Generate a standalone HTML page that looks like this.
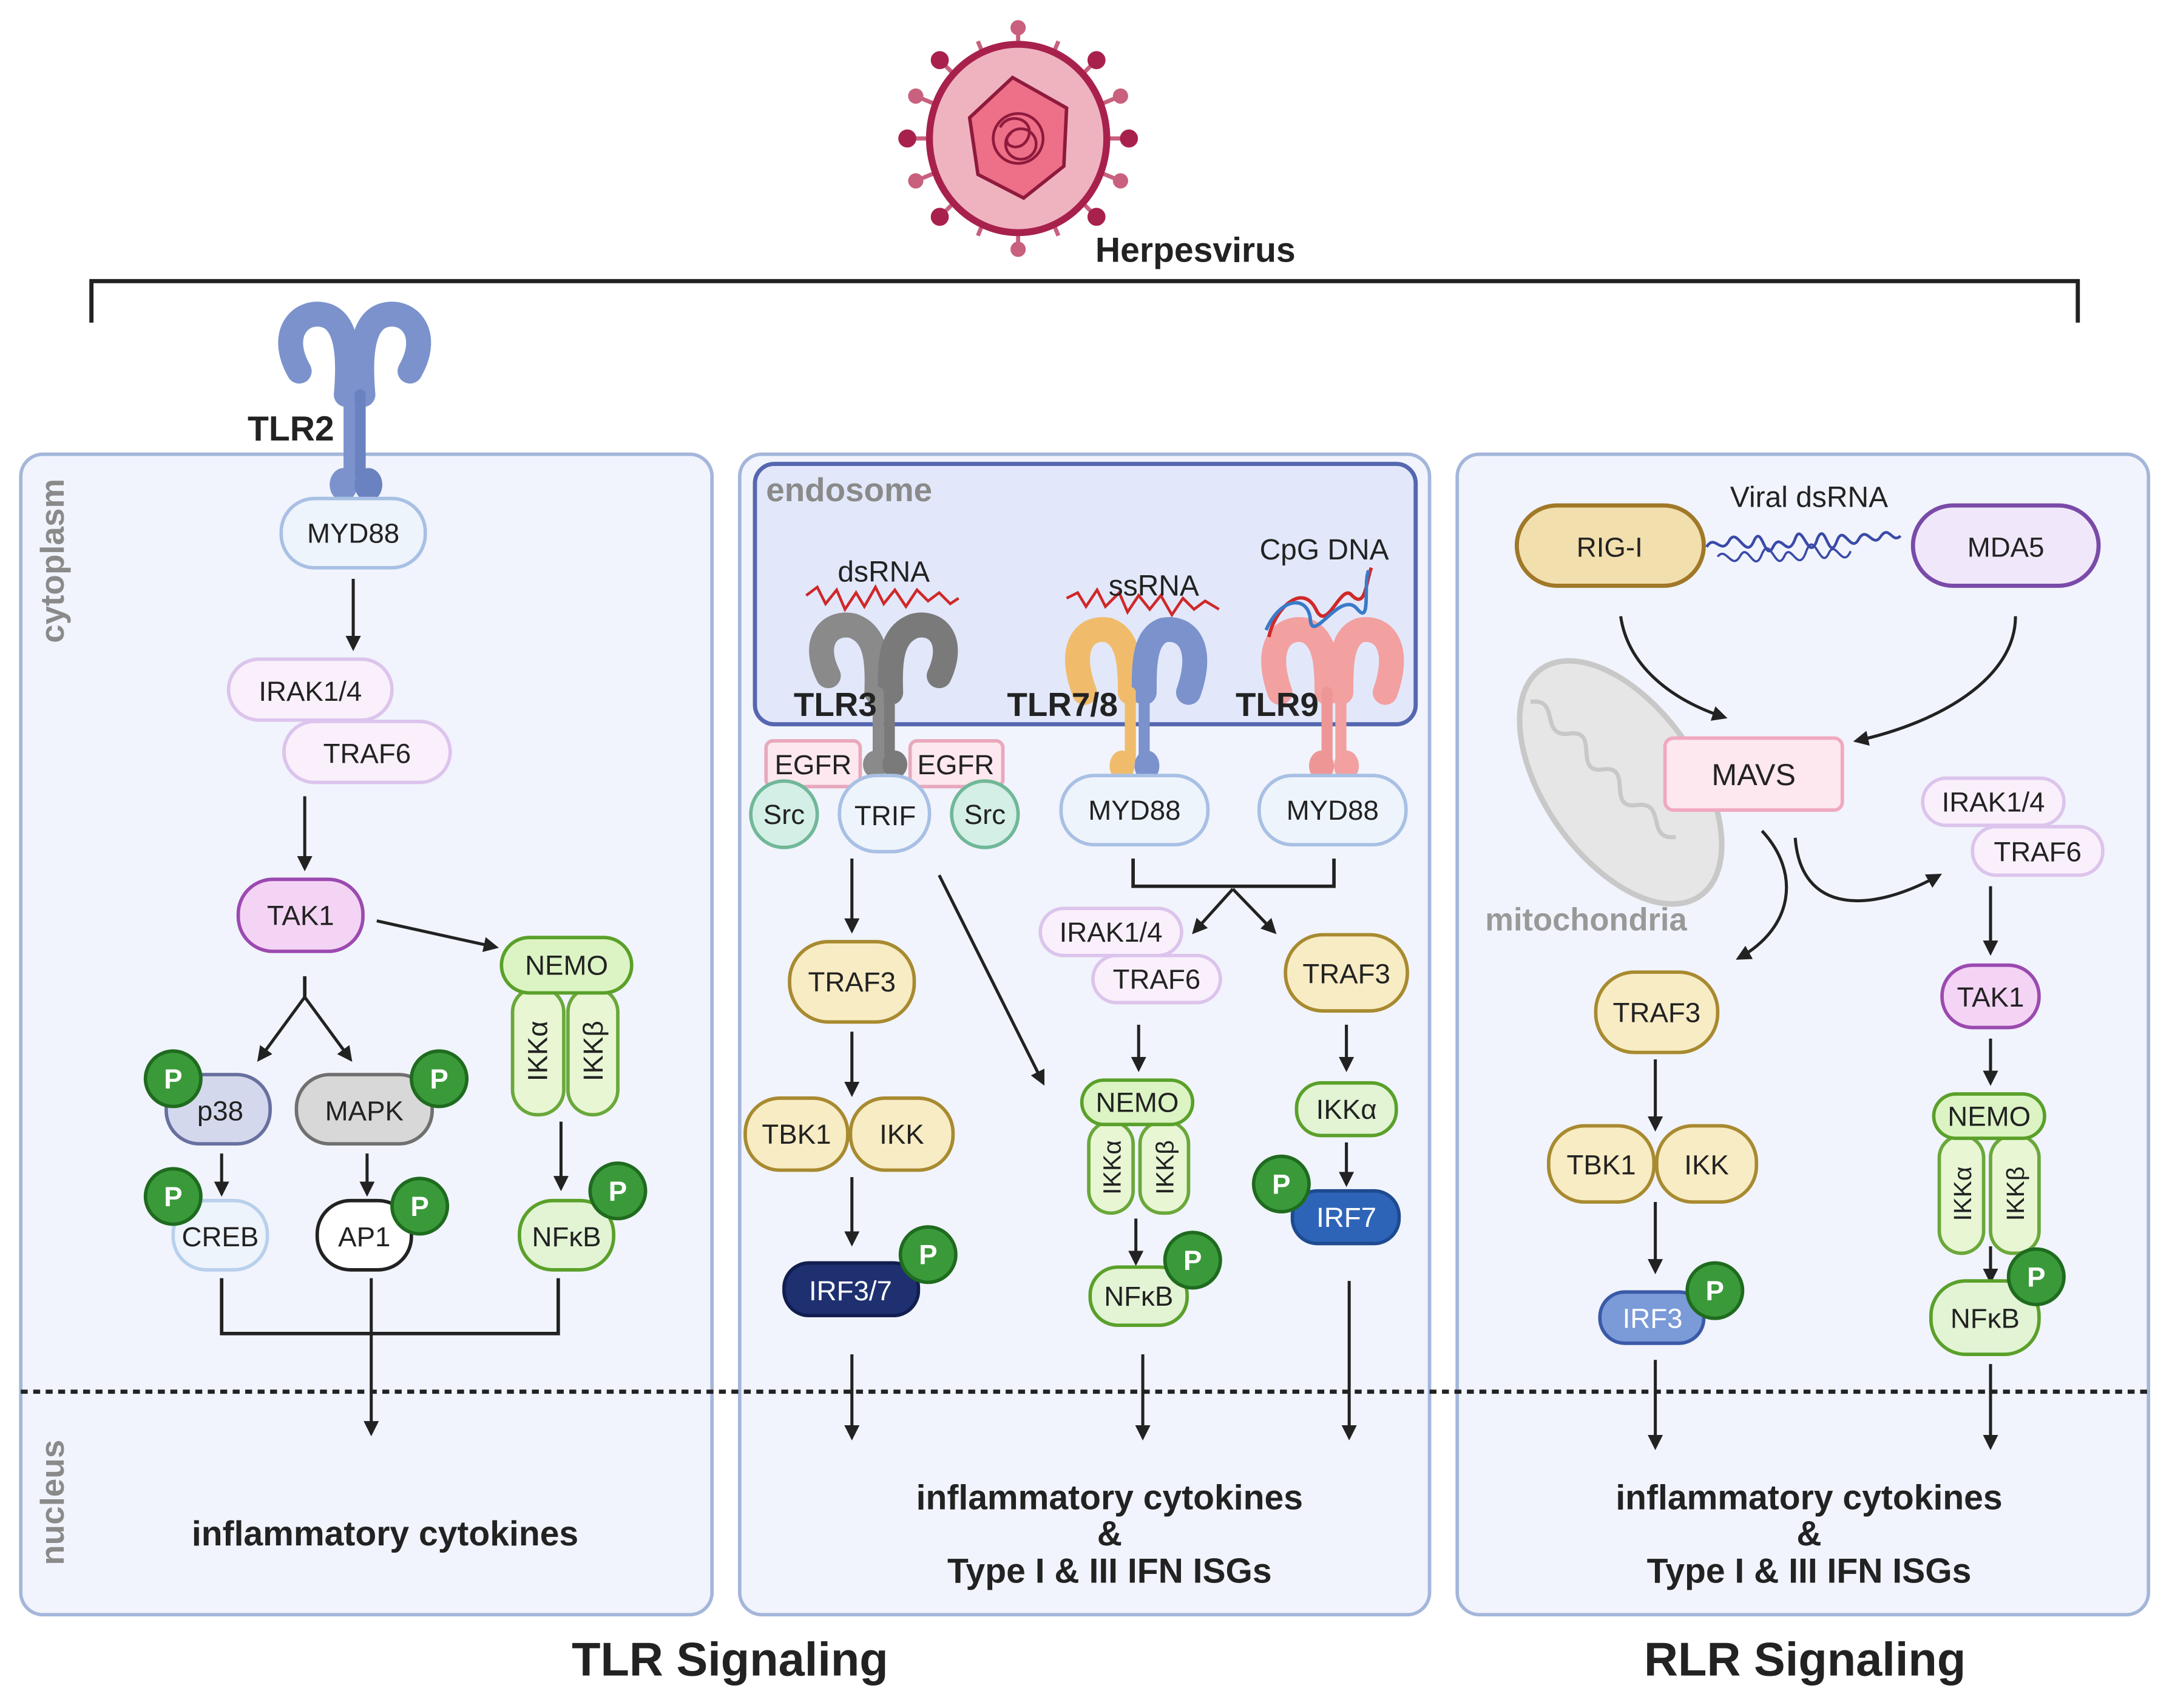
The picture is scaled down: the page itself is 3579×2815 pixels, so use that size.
<!DOCTYPE html>
<html><head><meta charset="utf-8"><style>
html,body{margin:0;padding:0;background:#fff;}
svg{display:block;}
text{font-family:"Liberation Sans","DejaVu Sans",sans-serif;}
</style></head><body>
<svg width="3579" height="2815" viewBox="0 0 1568 1233.4" preserveAspectRatio="none" xmlns="http://www.w3.org/2000/svg">
<defs>
<marker id="a" viewBox="0 0 10 10" refX="8" refY="5" markerWidth="5" markerHeight="5" orient="auto"><path d="M0,0 L10,5 L0,10 z" fill="#222"/></marker>
</defs>
<rect width="1568" height="1234" fill="#fff"/>

<!-- virus -->
<g>
 <g stroke="#c8607e" stroke-width="3">
  <g transform="rotate(0 735 100)"><line x1="735" y1="35" x2="735" y2="22"/><circle cx="735" cy="20" r="4" fill="#c8607e"/></g>
  <g transform="rotate(22.5 735 100)"><line x1="735" y1="35" x2="735" y2="24"/></g>
  <g transform="rotate(45 735 100)"><line x1="735" y1="35" x2="735" y2="22"/><circle cx="735" cy="20" r="5" fill="#a8214c" stroke="#a8214c"/></g>
  <g transform="rotate(67.5 735 100)"><line x1="735" y1="35" x2="735" y2="22"/><circle cx="735" cy="20" r="4" fill="#c8607e"/></g>
  <g transform="rotate(90 735 100)"><line x1="735" y1="35" x2="735" y2="22"/><circle cx="735" cy="20" r="5" fill="#a8214c" stroke="#a8214c"/></g>
  <g transform="rotate(112.5 735 100)"><line x1="735" y1="35" x2="735" y2="22"/><circle cx="735" cy="20" r="4" fill="#c8607e"/></g>
  <g transform="rotate(135 735 100)"><line x1="735" y1="35" x2="735" y2="22"/><circle cx="735" cy="20" r="5" fill="#a8214c" stroke="#a8214c"/></g>
  <g transform="rotate(157.5 735 100)"><line x1="735" y1="35" x2="735" y2="24"/></g>
  <g transform="rotate(180 735 100)"><line x1="735" y1="35" x2="735" y2="22"/><circle cx="735" cy="20" r="4" fill="#c8607e"/></g>
  <g transform="rotate(202.5 735 100)"><line x1="735" y1="35" x2="735" y2="24"/></g>
  <g transform="rotate(225 735 100)"><line x1="735" y1="35" x2="735" y2="22"/><circle cx="735" cy="20" r="5" fill="#a8214c" stroke="#a8214c"/></g>
  <g transform="rotate(247.5 735 100)"><line x1="735" y1="35" x2="735" y2="22"/><circle cx="735" cy="20" r="4" fill="#c8607e"/></g>
  <g transform="rotate(270 735 100)"><line x1="735" y1="35" x2="735" y2="22"/><circle cx="735" cy="20" r="5" fill="#a8214c" stroke="#a8214c"/></g>
  <g transform="rotate(292.5 735 100)"><line x1="735" y1="35" x2="735" y2="22"/><circle cx="735" cy="20" r="4" fill="#c8607e"/></g>
  <g transform="rotate(315 735 100)"><line x1="735" y1="35" x2="735" y2="22"/><circle cx="735" cy="20" r="5" fill="#a8214c" stroke="#a8214c"/></g>
  <g transform="rotate(337.5 735 100)"><line x1="735" y1="35" x2="735" y2="24"/></g>
 </g>
 <ellipse cx="735" cy="100" rx="64" ry="68" fill="#efb3c0" stroke="#a8214c" stroke-width="5"/>
 <polygon points="731,56 770,78 768,120 739,143 706,126 700,85" fill="#ee6f88" stroke="#8e1a3c" stroke-width="2.5"/>
 <circle cx="735" cy="100" r="18" fill="none" stroke="#8e1a3c" stroke-width="2"/>
 <circle cx="737" cy="104" r="11" fill="none" stroke="#8e1a3c" stroke-width="2"/>
 <path d="M722,92 C728,80 748,86 742,100 C736,112 720,104 730,96" fill="none" stroke="#8e1a3c" stroke-width="2"/>
</g>
<text x="863" y="189" font-size="25" font-weight="bold" text-anchor="middle" fill="#222">Herpesvirus</text>

<!-- bracket -->
<path d="M66,233 V203 H1500 V233" fill="none" stroke="#222" stroke-width="3"/>

<!-- panels -->
<rect x="15" y="328" width="499" height="838" rx="16" fill="#f1f4fc" stroke="#a4b6da" stroke-width="2.5"/>
<rect x="534" y="328" width="498" height="838" rx="16" fill="#f1f4fc" stroke="#a4b6da" stroke-width="2.5"/>
<rect x="1052" y="328" width="499" height="838" rx="16" fill="#f1f4fc" stroke="#a4b6da" stroke-width="2.5"/>
<line x1="15" y1="1005" x2="1551" y2="1005" stroke="#222" stroke-width="3" stroke-dasharray="5,4"/>
<rect x="545" y="335" width="477" height="188" rx="14" fill="#e2e8fa" stroke="#5567b0" stroke-width="3"/>

<text transform="translate(46,405) rotate(-90)" font-size="24" font-weight="bold" text-anchor="middle" fill="#8a8a8a">cytoplasm</text>
<text transform="translate(46,1085) rotate(-90)" font-size="24" font-weight="bold" text-anchor="middle" fill="#8a8a8a">nucleus</text>
<text x="553" y="362" font-size="24" font-weight="bold" fill="#8a8a8a">endosome</text>

<!-- receptors -->
<!-- TLR2 -->
<g fill="none" stroke-linecap="round">
 <path d="M216,268 C200,240 218,222 236,228 C252,234 252,262 250,285" stroke="#7b92cc" stroke-width="18"/>
 <path d="M296,268 C312,240 294,222 276,228 C260,234 260,262 262,285" stroke="#7b92cc" stroke-width="18"/>
 <line x1="252" y1="285" x2="252" y2="345" stroke="#7b92cc" stroke-width="8"/>
 <line x1="260" y1="285" x2="260" y2="345" stroke="#6a82c0" stroke-width="8"/>
</g>
<ellipse cx="248" cy="350" rx="10" ry="12" fill="#7b92cc"/><ellipse cx="266" cy="350" rx="10" ry="12" fill="#6a82c0"/>
<text x="210" y="318" font-size="25" font-weight="bold" text-anchor="middle" fill="#222">TLR2</text>

<!-- TLR3 -->
<g fill="none" stroke-linecap="round">
 <path d="M598,488 C585,462 600,448 616,452 C632,458 634,475 633,500" stroke="#8a8a8a" stroke-width="18"/>
 <path d="M678,488 C690,462 676,448 660,452 C644,458 642,475 643,500" stroke="#7a7a7a" stroke-width="18"/>
 <line x1="634" y1="500" x2="634" y2="545" stroke="#8a8a8a" stroke-width="8"/>
 <line x1="642" y1="500" x2="642" y2="545" stroke="#7a7a7a" stroke-width="8"/>
</g>
<ellipse cx="632" cy="552" rx="9" ry="10" fill="#8a8a8a"/><ellipse cx="646" cy="552" rx="9" ry="10" fill="#7a7a7a"/>
<!-- TLR7/8 -->
<g fill="none" stroke-linecap="round">
 <path d="M783,500 C770,466 784,452 800,455 C815,460 816,480 816,500" stroke="#f0bc6c" stroke-width="18"/>
 <path d="M858,500 C870,466 856,452 840,455 C826,460 826,480 826,500" stroke="#7b92cc" stroke-width="18"/>
 <line x1="816" y1="500" x2="816" y2="548" stroke="#f0bc6c" stroke-width="8"/>
 <line x1="826" y1="500" x2="826" y2="548" stroke="#7b92cc" stroke-width="8"/>
</g>
<ellipse cx="810" cy="553" rx="9" ry="11" fill="#f0bc6c"/><ellipse cx="828" cy="553" rx="9" ry="11" fill="#7b92cc"/>
<!-- TLR9 -->
<g fill="none" stroke-linecap="round">
 <path d="M924,500 C912,466 926,452 942,455 C957,460 958,480 958,500" stroke="#f2a0a0" stroke-width="18"/>
 <path d="M1000,500 C1012,466 998,452 982,455 C968,460 968,480 968,500" stroke="#f2a0a0" stroke-width="18"/>
 <line x1="958" y1="500" x2="958" y2="548" stroke="#ee9696" stroke-width="8"/>
 <line x1="968" y1="500" x2="968" y2="548" stroke="#f2a0a0" stroke-width="8"/>
</g>
<ellipse cx="954" cy="553" rx="9" ry="11" fill="#ee9696"/><ellipse cx="972" cy="553" rx="9" ry="11" fill="#f2a0a0"/>

<!-- RNA / DNA -->
<path d="M582,430 l8,-6 l6,12 l8,-10 l6,14 l8,-12 l6,10 l8,-14 l6,12 l8,-10 l8,12 l8,-12 l8,8 l8,-6 l8,8 l6,-4" fill="none" stroke="#d02828" stroke-width="2"/>
<path d="M770,432 l8,-4 l6,10 l8,-12 l6,12 l10,-10 l6,14 l8,-12 l8,10 l8,-10 l8,14 l8,-12 l8,8 l8,-6 l10,6" fill="none" stroke="#d02828" stroke-width="2"/>
<path d="M916,460 C920,440 940,420 950,440 C958,458 968,420 976,430 C986,440 986,420 990,410" fill="none" stroke="#d02828" stroke-width="2.5"/>
<path d="M914,455 C925,430 945,430 946,448 C948,465 968,425 980,440 C990,452 984,420 988,412" fill="none" stroke="#3a7ac8" stroke-width="2.5"/>
<path d="M1232,395 c6,-10 10,6 16,-4 c6,-12 12,14 18,0 c6,-14 8,16 14,4 c6,-12 10,10 16,-6 c5,-14 10,20 16,0 c6,-14 8,18 14,2 c5,-14 10,10 16,-2 c6,-10 10,8 16,-2 c6,-8 8,6 14,0" fill="none" stroke="#3a4aa8" stroke-width="2"/>
<path d="M1240,402 c6,-8 10,10 16,0 c6,-12 10,14 16,-2 c6,-14 10,14 16,2 c5,-12 10,14 16,-4 c6,-16 10,14 16,2 c5,-12 10,12 16,-2" fill="none" stroke="#3a4aa8" stroke-width="1.6"/>

<text x="638" y="420" font-size="21" text-anchor="middle" fill="#222">dsRNA</text>
<text x="833" y="430" font-size="21" text-anchor="middle" fill="#222">ssRNA</text>
<text x="956" y="404" font-size="21" text-anchor="middle" fill="#222">CpG DNA</text>
<text x="603" y="517" font-size="24" font-weight="bold" text-anchor="middle" fill="#222">TLR3</text>
<text x="767" y="517" font-size="24" font-weight="bold" text-anchor="middle" fill="#222">TLR7/8</text>
<text x="922" y="517" font-size="24" font-weight="bold" text-anchor="middle" fill="#222">TLR9</text>
<text x="1306" y="366" font-size="21" text-anchor="middle" fill="#222">Viral dsRNA</text>

<!-- mitochondria -->
<g transform="rotate(-35 1170 565)">
 <ellipse cx="1170" cy="565" rx="55" ry="100" fill="#e6e6e6" stroke="#c8c8c8" stroke-width="4"/>
 <path d="M1150,480 c20,10 -10,25 10,35 c20,10 -15,25 5,35 c20,10 -15,25 5,35 c20,10 -10,25 10,35" fill="none" stroke="#c8c8c8" stroke-width="3"/>
</g>
<text x="1145" y="672" font-size="23" font-weight="bold" text-anchor="middle" fill="#999">mitochondria</text>

<!-- arrows -->
<g stroke="#222" stroke-width="2.2" fill="none" marker-end="url(#a)">
 <line x1="255" y1="418" x2="255" y2="468"/>
 <line x1="220" y1="575" x2="220" y2="627"/>
 <line x1="220" y1="720" x2="187" y2="765"/>
 <line x1="220" y1="720" x2="253" y2="765"/>
 <line x1="272" y1="665" x2="358" y2="684"/>
 <line x1="160" y1="833" x2="160" y2="862"/>
 <line x1="265" y1="833" x2="265" y2="862"/>
 <line x1="405" y1="810" x2="405" y2="858"/>
 <line x1="268" y1="923" x2="268" y2="1035"/>
 <line x1="615" y1="620" x2="615" y2="672"/>
 <line x1="615" y1="745" x2="615" y2="790"/>
 <line x1="615" y1="850" x2="615" y2="898"/>
 <line x1="678" y1="632" x2="753" y2="782"/>
 <line x1="890" y1="642" x2="862" y2="673"/>
 <line x1="890" y1="642" x2="920" y2="673"/>
 <line x1="822" y1="740" x2="822" y2="772"/>
 <line x1="820" y1="880" x2="820" y2="912"/>
 <line x1="972" y1="740" x2="972" y2="772"/>
 <line x1="972" y1="825" x2="972" y2="855"/>
 <line x1="974" y1="925" x2="974" y2="1038"/>
 <line x1="615" y1="978" x2="615" y2="1038"/>
 <line x1="825" y1="978" x2="825" y2="1038"/>
 <path d="M1170,445 C1175,480 1205,505 1245,518"/>
 <path d="M1455,445 C1455,490 1400,522 1340,535"/>
 <path d="M1272,600 C1300,630 1295,670 1255,692"/>
 <path d="M1296,605 C1300,660 1350,660 1400,632"/>
 <line x1="1437" y1="640" x2="1437" y2="688"/>
 <line x1="1437" y1="750" x2="1437" y2="782"/>
 <line x1="1437" y1="900" x2="1437" y2="925"/>
 <line x1="1195" y1="765" x2="1195" y2="815"/>
 <line x1="1195" y1="868" x2="1195" y2="918"/>
 <line x1="1195" y1="982" x2="1195" y2="1045"/>
 <line x1="1437" y1="985" x2="1437" y2="1045"/>
</g>
<g stroke="#222" stroke-width="2.5" fill="none">
 <line x1="220" y1="705" x2="220" y2="722"/>
 <path d="M160,923 V963 H403 V923"/>
 <path d="M818,620 V640 H963 V620"/>
</g>

<!-- nodes -->
<g font-size="20" text-anchor="middle" fill="#222">
 <!-- panel1 -->
 <rect x="203" y="360" width="104" height="50" rx="24" fill="#eef4fc" stroke="#a8c0e4" stroke-width="2.5"/><text x="255" y="392">MYD88</text>
 <rect x="165" y="476" width="118" height="44" rx="22" fill="#faf0fc" stroke="#dcc4ec" stroke-width="2.5"/><text x="224" y="506">IRAK1/4</text>
 <rect x="205" y="521" width="120" height="44" rx="22" fill="#faf0fc" stroke="#dcc4ec" stroke-width="2.5"/><text x="265" y="551">TRAF6</text>
 <rect x="172" y="635" width="90" height="52" rx="25" fill="#f4d4f4" stroke="#9b4ab0" stroke-width="2.5"/><text x="217" y="668">TAK1</text>
 <rect x="370" y="713" width="37" height="92" rx="18" fill="#e8f6d4" stroke="#6aa83a" stroke-width="2.5"/>
 <rect x="410" y="713" width="36" height="92" rx="18" fill="#e8f6d4" stroke="#6aa83a" stroke-width="2.5"/>
 <text transform="translate(395,759) rotate(-90)">IKKα</text><text transform="translate(435,759) rotate(-90)">IKKβ</text>
 <rect x="362" y="677" width="94" height="40" rx="20" fill="#dcf4c4" stroke="#5aa02a" stroke-width="2.5"/><text x="409" y="704">NEMO</text>
 <rect x="120" y="776" width="75" height="50" rx="24" fill="#d4d8ec" stroke="#6870a0" stroke-width="2.5"/><text x="159" y="809">p38</text>
 <rect x="214" y="776" width="98" height="50" rx="24" fill="#d8d8d8" stroke="#707070" stroke-width="2.5"/><text x="263" y="809">MAPK</text>
 <rect x="125" y="867" width="68" height="50" rx="24" fill="#eef4fc" stroke="#b8d0ec" stroke-width="2.5"/><text x="159" y="900">CREB</text>
 <rect x="229" y="867" width="68" height="50" rx="24" fill="#fff" stroke="#222" stroke-width="2.5"/><text x="263" y="900">AP1</text>
 <rect x="375" y="867" width="68" height="50" rx="24" fill="#e2f4d4" stroke="#5aa02a" stroke-width="2.5"/><text x="409" y="900">NFκB</text>

 <!-- panel2 -->
 <rect x="553" y="535" width="68" height="33" rx="5" fill="#fce8ee" stroke="#e8a8bc" stroke-width="2.5"/><text x="587" y="559">EGFR</text>
 <rect x="657" y="535" width="67" height="33" rx="5" fill="#fce8ee" stroke="#e8a8bc" stroke-width="2.5"/><text x="690" y="559">EGFR</text>
 <rect x="606" y="560" width="65" height="55" rx="27" fill="#eef4fc" stroke="#a8c0e4" stroke-width="2.5"/><text x="639" y="596">TRIF</text>
 <circle cx="566" cy="588" r="24" fill="#d4efe6" stroke="#70b898" stroke-width="2.5"/><text x="566" y="595">Src</text>
 <circle cx="711" cy="588" r="24" fill="#d4efe6" stroke="#70b898" stroke-width="2.5"/><text x="711" y="595">Src</text>
 <rect x="766" y="560" width="106" height="50" rx="24" fill="#eef4fc" stroke="#a8c0e4" stroke-width="2.5"/><text x="819" y="592">MYD88</text>
 <rect x="909" y="560" width="106" height="50" rx="24" fill="#eef4fc" stroke="#a8c0e4" stroke-width="2.5"/><text x="962" y="592">MYD88</text>
 <rect x="570" y="680" width="90" height="58" rx="28" fill="#f8ecc4" stroke="#a88a30" stroke-width="2.5"/><text x="615" y="716">TRAF3</text>
 <rect x="538" y="793" width="74" height="52" rx="25" fill="#f8ecc4" stroke="#a88a30" stroke-width="2.5"/><text x="575" y="826">TBK1</text>
 <rect x="614" y="793" width="74" height="52" rx="25" fill="#f8ecc4" stroke="#a88a30" stroke-width="2.5"/><text x="651" y="826">IKK</text>
 <rect x="566" y="912" width="97" height="38" rx="18" fill="#1e3070" stroke="#121e50" stroke-width="2.5"/><text x="614" y="939" fill="#fff">IRF3/7</text>
 <rect x="751" y="656" width="102" height="34" rx="17" fill="#faf0fc" stroke="#dcc4ec" stroke-width="2.5"/><text x="802" y="680">IRAK1/4</text>
 <rect x="789" y="690" width="92" height="34" rx="17" fill="#faf0fc" stroke="#dcc4ec" stroke-width="2.5"/><text x="835" y="714">TRAF6</text>
 <rect x="928" y="675" width="88" height="55" rx="27" fill="#f8ecc4" stroke="#a88a30" stroke-width="2.5"/><text x="972" y="710">TRAF3</text>
 <rect x="786" y="810" width="32" height="66" rx="16" fill="#e8f6d4" stroke="#6aa83a" stroke-width="2.5"/>
 <rect x="823" y="810" width="35" height="66" rx="16" fill="#e8f6d4" stroke="#6aa83a" stroke-width="2.5"/>
 <text transform="translate(809,843) rotate(-90)" font-size="18">IKKα</text><text transform="translate(847,843) rotate(-90)" font-size="18">IKKβ</text>
 <rect x="781" y="780" width="80" height="32" rx="16" fill="#dcf4c4" stroke="#5aa02a" stroke-width="2.5"/><text x="821" y="803">NEMO</text>
 <rect x="787" y="915" width="70" height="42" rx="20" fill="#e2f4d4" stroke="#5aa02a" stroke-width="2.5"/><text x="822" y="943">NFκB</text>
 <rect x="936" y="782" width="72" height="38" rx="18" fill="#e2f4d4" stroke="#5aa02a" stroke-width="2.5"/><text x="972" y="808">IKKα</text>
 <rect x="933" y="860" width="77" height="38" rx="18" fill="#2e64b8" stroke="#1e4a90" stroke-width="2.5"/><text x="972" y="886" fill="#fff">IRF7</text>

 <!-- panel3 -->
 <rect x="1095" y="365" width="135" height="58" rx="29" fill="#f2dfae" stroke="#a07828" stroke-width="3"/><text x="1162" y="402">RIG-I</text>
 <rect x="1381" y="365" width="134" height="58" rx="29" fill="#f0e8fa" stroke="#7a4aa8" stroke-width="3"/><text x="1448" y="402">MDA5</text>
 <rect x="1202" y="533" width="128" height="52" rx="6" fill="#fde8ef" stroke="#f0a8c0" stroke-width="2.5"/><text x="1266" y="567" font-size="22">MAVS</text>
 <rect x="1388" y="562" width="102" height="34" rx="17" fill="#faf0fc" stroke="#dcc4ec" stroke-width="2.5"/><text x="1439" y="586">IRAK1/4</text>
 <rect x="1424" y="597" width="94" height="35" rx="17" fill="#faf0fc" stroke="#dcc4ec" stroke-width="2.5"/><text x="1471" y="622">TRAF6</text>
 <rect x="1152" y="702" width="88" height="58" rx="28" fill="#f8ecc4" stroke="#a88a30" stroke-width="2.5"/><text x="1196" y="738">TRAF3</text>
 <rect x="1118" y="813" width="76" height="55" rx="26" fill="#f8ecc4" stroke="#a88a30" stroke-width="2.5"/><text x="1156" y="848">TBK1</text>
 <rect x="1196" y="813" width="72" height="55" rx="26" fill="#f8ecc4" stroke="#a88a30" stroke-width="2.5"/><text x="1232" y="848">IKK</text>
 <rect x="1155" y="933" width="75" height="37" rx="18" fill="#7a9ad8" stroke="#3a5aa8" stroke-width="2.5"/><text x="1193" y="959" fill="#fff">IRF3</text>
 <rect x="1402" y="697" width="70" height="45" rx="22" fill="#f4d4f4" stroke="#9b4ab0" stroke-width="2.5"/><text x="1437" y="727">TAK1</text>
 <rect x="1400" y="820" width="32" height="85" rx="16" fill="#e8f6d4" stroke="#6aa83a" stroke-width="2.5"/>
 <rect x="1437" y="820" width="35" height="85" rx="16" fill="#e8f6d4" stroke="#6aa83a" stroke-width="2.5"/>
 <text transform="translate(1423,862) rotate(-90)" font-size="18">IKKα</text><text transform="translate(1461,862) rotate(-90)" font-size="18">IKKβ</text>
 <rect x="1396" y="790" width="80" height="32" rx="16" fill="#dcf4c4" stroke="#5aa02a" stroke-width="2.5"/><text x="1436" y="813">NEMO</text>
 <rect x="1394" y="925" width="78" height="53" rx="25" fill="#e2f4d4" stroke="#5aa02a" stroke-width="2.5"/><text x="1433" y="959">NFκB</text>
</g>

<!-- P circles -->
<g font-size="20" font-weight="bold" text-anchor="middle" fill="#fff">
 <g fill="#3a9a3a" stroke="#1f6b1f" stroke-width="2.5">
  <circle cx="125" cy="779" r="20"/><circle cx="317" cy="779" r="20"/><circle cx="125" cy="864" r="20"/><circle cx="303" cy="871" r="20"/><circle cx="446" cy="860" r="20"/>
  <circle cx="670" cy="906" r="20"/><circle cx="861" cy="910" r="20"/><circle cx="925" cy="855" r="20"/>
  <circle cx="1238" cy="932" r="20"/><circle cx="1470" cy="922" r="20"/>
 </g>
 <text x="125" y="786">P</text><text x="317" y="786">P</text><text x="125" y="871">P</text><text x="303" y="878">P</text><text x="446" y="867">P</text>
 <text x="670" y="913">P</text><text x="861" y="917">P</text><text x="925" y="862">P</text>
 <text x="1238" y="939">P</text><text x="1470" y="929">P</text>
</g>

<!-- bottom texts -->
<g font-size="25" font-weight="bold" text-anchor="middle" fill="#222">
 <text x="278" y="1116">inflammatory cytokines</text>
 <text x="801" y="1090">inflammatory cytokines</text><text x="801" y="1116">&amp;</text><text x="801" y="1143">Type I &amp; III IFN ISGs</text>
 <text x="1306" y="1090">inflammatory cytokines</text><text x="1306" y="1116">&amp;</text><text x="1306" y="1143">Type I &amp; III IFN ISGs</text>
 <text x="527" y="1210" font-size="34">TLR Signaling</text>
 <text x="1303" y="1210" font-size="34">RLR Signaling</text>
</g>
</svg>
</body></html>
